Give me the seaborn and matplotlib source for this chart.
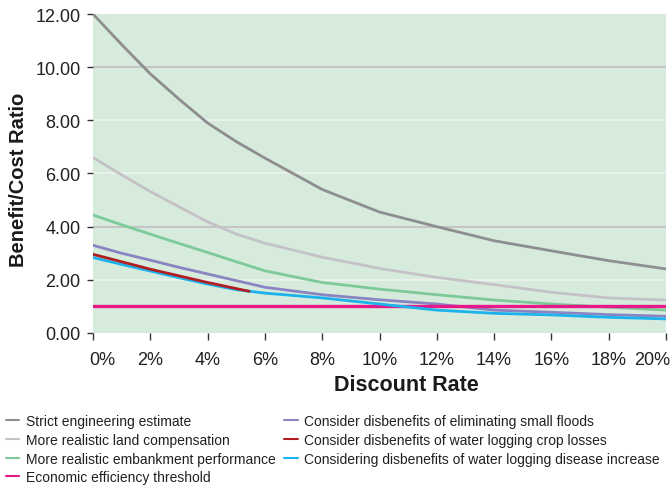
#!/usr/bin/env python3
"""Benefit/cost ratio vs discount rate for several project assumptions."""
import pandas as pd
import matplotlib.pyplot as plt
import matplotlib.transforms as mtrans
import seaborn as sns
from matplotlib.lines import Line2D

# discount rate (%) at which the curves were read
rates = [0, 1, 2, 3, 4, 5, 6, 8, 10, 12, 14, 16, 18, 20]
strict = [12.0, 10.85, 9.75, 8.8, 7.9, 7.2, 6.58, 5.4, 4.55, 4.0, 3.47, 3.09, 2.72, 2.41]
land = [6.6, 5.95, 5.32, 4.75, 4.18, 3.72, 3.38, 2.85, 2.43, 2.09, 1.82, 1.53, 1.32, 1.24]
embankment = [4.44, 4.07, 3.72, 3.37, 3.03, 2.68, 2.34, 1.9, 1.65, 1.44, 1.24, 1.09, 0.97, 0.86]
small_floods = [3.3, 3.0, 2.74, 2.47, 2.22, 1.97, 1.72, 1.44, 1.25, 1.09, 0.86, 0.78, 0.69, 0.63]
crop_rates = [0, 1, 2, 3, 4, 5, 5.45]
crop_losses = [2.96, 2.68, 2.4, 2.15, 1.9, 1.67, 1.57]
disease = [2.84, 2.58, 2.33, 2.08, 1.84, 1.63, 1.5, 1.32, 1.09, 0.86, 0.74, 0.68, 0.59, 0.53]
threshold = [1.0] * len(rates)

names = [
    'Strict engineering estimate',
    'More realistic land compensation',
    'More realistic embankment performance',
    'Economic efficiency threshold',
    'Consider disbenefits of eliminating small floods',
    'Consider disbenefits of water logging crop losses',
    'Considering disbenefits of water logging disease increase',
]
colors = ['#8e8e90', '#c4c2c6', '#7dca98', '#e6198a', '#8a84c2', '#b01e24', '#1cb2ec']
series = [
    (rates, strict), (rates, land), (rates, embankment), (rates, threshold),
    (rates, small_floods), (crop_rates, crop_losses), (rates, disease),
]

frames = []
for name, (xs, ys) in zip(names, series):
    frames.append(pd.DataFrame({'rate': xs, 'ratio': ys, 'series': name}))
df = pd.concat(frames, ignore_index=True)

sns.set_style('white')
plt.rcParams['font.family'] = ['Liberation Sans', 'DejaVu Sans']

fig = plt.figure(figsize=(6.71, 4.89), dpi=100)
ax = fig.add_axes([0.1386, 0.317, 0.854, 0.6523])
ax.set_facecolor('#d7ebdc')

# horizontal guide lines (some grey, some near white as in the original)
for h in [2, 4, 6, 8, 10]:
    ax.axhline(h, color='#c3bdc3' if h in (4, 10) else '#eef2ef', lw=1.2, zorder=0)

palette = dict(zip(names, colors))
draw_order = [0, 1, 2, 4, 3, 6, 5]
for i in draw_order:
    sub = df[df['series'] == names[i]]
    sns.lineplot(data=sub, x='rate', y='ratio', color=palette[names[i]],
                 lw=2.4 if i == 3 else 2.0, ax=ax, legend=False)

ax.set_xlim(0, 20)
ax.set_ylim(0, 12)
xt = list(range(0, 21, 2))
ax.set_xticks(xt)
ax.set_xticklabels([f'{r}%' for r in xt], fontsize=13)
yt = [0, 2, 4, 6, 8, 10, 12]
ax.set_yticks(yt)
ax.set_yticklabels([f'{v:.2f}' for v in yt], fontsize=13)
for s in ax.spines.values():
    s.set_visible(False)
ax.tick_params(axis='x', bottom=True, length=5, width=1, color='#333333', pad=8,
               labelcolor='#231f20')
ax.tick_params(axis='y', left=True, length=4, width=1, color='#333333', pad=5,
               labelcolor='#231f20')

# end labels sit inside the figure like in the original
xlabels = ax.get_xticklabels()
xlabels[0].set_transform(xlabels[0].get_transform()
                         + mtrans.ScaledTranslation(0.09, 0, fig.dpi_scale_trans))
xlabels[-1].set_transform(xlabels[-1].get_transform()
                          + mtrans.ScaledTranslation(-0.135, 0, fig.dpi_scale_trans))

ax.set_xlabel('Discount Rate', fontsize=15.5, fontweight='bold', color='#1a1a1a')
ax.xaxis.set_label_coords(0.547, -0.128)
ax.set_ylabel('Benefit/Cost Ratio', fontsize=14.5, fontweight='bold', color='#1a1a1a')
ax.yaxis.set_label_coords(-0.113, 0.483)

handles = [Line2D([], [], color=c, lw=1.5) for c in colors]
fig.legend(handles, names, ncol=2, loc='upper left', bbox_to_anchor=(0.0, 0.162),
           frameon=False, fontsize=10, handlelength=1.0, handletextpad=0.45,
           labelspacing=0.33, columnspacing=0.6, borderaxespad=0.0,
           labelcolor='#231f20')

fig.savefig('out.png', dpi=100)
